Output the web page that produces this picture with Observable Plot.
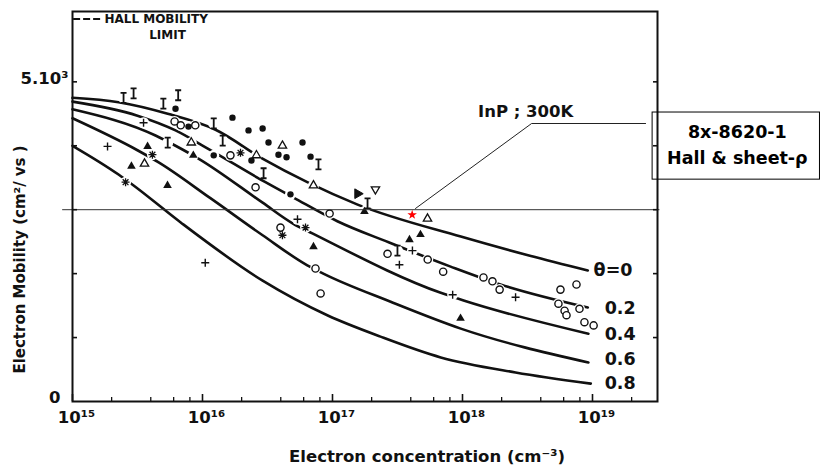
<!DOCTYPE html>
<html>
<head>
<meta charset="utf-8">
<title>InP electron mobility at 300 K</title>
<script src="https://cdn.jsdelivr.net/npm/d3@7"></script>
<script src="https://cdn.jsdelivr.net/npm/@observablehq/plot@0.6"></script>
<style>
  html, body { margin: 0; padding: 0; background: #fff; }
</style>
</head>
<body>
<div id="chart"></div>
<script>
// ---- Theoretical 300 K Hall mobility curves, one per compensation ratio θ ----
const thetaLabels = ["θ=0", "0.2", "0.4", "0.6", "0.8"];
const thetaLabelN = [1.02e19, 1.24e19, 1.24e19, 1.24e19, 1.24e19];
const thetaLabelMu = [2050, 1455, 1050, 655, 280];

const curveN_00 = [1e15, 2.26e15, 5.4e15, 1.26e16, 2.94e16, 6.4e16, 1.56e17, 9.7e17, 3.3e18, 9.2e18];
const curveMu_00 = [4750, 4680, 4500, 4250, 3790, 3430, 3080, 2580, 2280, 2050];

const curveN_02 = [1e15, 3.16e15, 6.2e15, 1.09e16, 3.05e16, 5.0e16, 1.09e17, 2.7e17, 8.1e17, 1.96e18, 9.2e18];
const curveMu_02 = [4690, 4470, 4240, 3960, 3430, 3190, 2820, 2490, 2110, 1830, 1470];

const curveN_04 = [1e15, 4.35e15, 6.2e15, 9.3e15, 2.9e16, 5.0e16, 7.0e16, 6.8e17, 1.02e18, 9.3e18];
const curveMu_04 = [4570, 4160, 4000, 3800, 3110, 2780, 2630, 1700, 1580, 1060];

const curveN_06 = [1e15, 3.16e15, 4.6e15, 1.15e16, 2.9e16, 6.4e16, 8.5e16, 2.8e17, 9.7e17, 9.3e18];
const curveMu_06 = [4430, 3930, 3740, 3180, 2600, 2130, 2000, 1560, 1140, 610];

const curveN_08 = [1e15, 2.26e15, 2.9e15, 6.8e15, 2.9e16, 9.2e16, 2.34e17, 6.8e17, 2.56e18, 9.7e18];
const curveMu_08 = [4000, 3550, 3390, 2800, 1890, 1345, 1015, 690, 455, 280];

// ---- Measured samples from the literature, grouped by plotting symbol ----
const ibarN = [2.47e15, 2.95e15, 5.0e15, 6.5e15, 1.22e16, 5.4e15, 1.43e16, 7.8e16, 2.95e16, 1.86e17, 3.16e17];
const ibarMu = [4750, 4820, 4660, 4790, 4350, 4050, 4080, 3710, 3570, 3100, 2360];

const dotN = [6.2e15, 7.8e15, 1.7e16, 2.26e16, 2.9e16, 3.22e16, 5.88e16, 3.84e16, 4.43e16, 6.78e16, 1.22e16, 2.38e16, 4.75e16];
const dotMu = [4580, 4300, 4440, 4240, 4270, 4050, 4050, 3860, 3820, 3830, 3850, 3770, 3240];

const circleN = [6.1e15, 6.8e15, 8.8e15, 1.64e16, 2.56e16, 9.5e16, 3.98e16, 7.4e16, 8.1e16, 2.65e17, 5.4e17, 7.1e17,
                 1.45e18, 1.7e18, 1.93e18, 5.67e18, 7.53e18, 5.47e18, 6.1e18, 6.31e18, 7.94e18, 8.67e18, 1.02e19];
const circleMu = [4380, 4320, 4320, 3850, 3350, 2940, 2720, 2080, 1690, 2310, 2220, 2030,
                  1940, 1880, 1750, 1750, 1830, 1530, 1420, 1350, 1450, 1240, 1190];

const triN = [3.78e15, 2.84e15, 5.38e15, 8.5e15, 7.14e16, 1.76e17, 3.91e17, 4.75e17, 9.66e17];
const triMu = [3990, 3680, 3380, 3850, 2420, 2970, 2530, 2610, 1300];

const triOpenN = [3.58e15, 8.2e15, 4.12e16, 7.14e16, 5.38e17, 2.6e16];
const triOpenMu = [3720, 4050, 4000, 3380, 2860, 3850];

const plusN = [3.52e15, 1.86e15, 5.38e16, 1.05e16, 4.12e17, 3.27e17, 8.4e17, 2.56e18];
const plusMu = [4360, 3990, 2850, 2170, 2360, 2140, 1670, 1630];

const asteriskN = [4.12e15, 2.56e15, 1.96e16, 6.2e16, 4.12e16];
const asteriskMu = [3860, 3430, 3890, 2720, 2600];

const triDownN = [2.14e17];
const triDownMu = [3320];

const flagN = [1.56e17];
const flagMu = [3250];

// Sample 8x-8620-1 (Hall & sheet resistance)
const sampleN = [4.1e17];
const sampleMu = [2920];

// ---- Axes ----
const decades = [1e15, 1e16, 1e17, 1e18, 1e19];
const decadeLabels = ["10¹⁵", "10¹⁶", "10¹⁷", "10¹⁸", "10¹⁹"];
const minorMultiples = [2, 4, 6, 8];
const yTicks = [1000, 2000, 3000, 4000, 5000];
const yLabelValues = [0, 5000];
const yLabels = ["0", "5.10³"];

// ---- Tables built from the arrays above ----
const curveRows = [
  [curveN_00, curveMu_00], [curveN_02, curveMu_02], [curveN_04, curveMu_04],
  [curveN_06, curveMu_06], [curveN_08, curveMu_08]
].flatMap(([ns, mus], k) => ns.map((n, i) => ({theta: thetaLabels[k], n, mu: mus[i]})));

const rows = (kind, ns, mus) => ns.map((n, i) => ({kind, n, mu: mus[i]}));
const markerRows = [
  ...rows("ibar", ibarN, ibarMu),
  ...rows("dot", dotN, dotMu),
  ...rows("circle", circleN, circleMu),
  ...rows("tri", triN, triMu),
  ...rows("triOpen", triOpenN, triOpenMu),
  ...rows("plus", plusN, plusMu),
  ...rows("asterisk", asteriskN, asteriskMu),
  ...rows("triDown", triDownN, triDownMu),
  ...rows("flag", flagN, flagMu)
];
const ofKind = k => markerRows.filter(d => d.kind === k);

const labelRows = thetaLabels.map((t, i) => ({t, n: thetaLabelN[i], mu: thetaLabelMu[i]}));
const minorTicks = decades.flatMap(d => minorMultiples.map(m => m * d)).filter(v => v < 10 ** 19.5);

// ---- Custom stroked symbols ----
const radius = size => Math.sqrt(size / Math.PI);
const ibeam = {draw(ctx, size) {
  const r = radius(size), w = r * 0.6;
  ctx.moveTo(0, -r); ctx.lineTo(0, r);
  ctx.moveTo(-w, -r); ctx.lineTo(w, -r);
  ctx.moveTo(-w, r); ctx.lineTo(w, r);
}};
const cross = {draw(ctx, size) {
  const r = radius(size);
  ctx.moveTo(-r, 0); ctx.lineTo(r, 0);
  ctx.moveTo(0, -r); ctx.lineTo(0, r);
}};
const burst = {draw(ctx, size) {
  const r = radius(size), d = r * 0.72;
  ctx.moveTo(-r, 0); ctx.lineTo(r, 0);
  ctx.moveTo(0, -r); ctx.lineTo(0, r);
  ctx.moveTo(-d, -d); ctx.lineTo(d, d);
  ctx.moveTo(-d, d); ctx.lineTo(d, -d);
}};

const ink = "#111";
const scanFont = "DejaVu Sans";
const textStyle = {fontFamily: scanFont, fontWeight: "bold", fill: ink};

const chart = Plot.plot({
  width: 820,
  height: 470,
  marginLeft: 72,
  marginRight: 163,
  marginTop: 11,
  marginBottom: 69,
  style: {background: "#fff", color: ink},
  x: {type: "log", domain: [1e15, 10 ** 19.5], label: null},
  y: {domain: [0, 6100], label: null},
  marks: [
    // model curves
    Plot.line(curveRows, {x: "n", y: "mu", z: "theta", curve: "monotone-x", stroke: ink, strokeWidth: 2.6}),

    // white halos leave small breaks in the curves around each sample
    Plot.dot(markerRows, {x: "n", y: "mu", r: 5.5, fill: "#fff", stroke: "none"}),

    // samples
    Plot.dot(ofKind("dot"), {x: "n", y: "mu", r: 3.2, fill: ink, stroke: "none"}),
    Plot.dot(ofKind("circle"), {x: "n", y: "mu", r: 3.6, fill: "#fff", stroke: ink, strokeWidth: 1.4}),
    Plot.dot(ofKind("tri"), {x: "n", y: "mu", r: 3.2, symbol: "triangle", fill: ink, stroke: "none"}),
    Plot.dot(ofKind("triOpen"), {x: "n", y: "mu", r: 3.1, symbol: "triangle", fill: "#fff", stroke: ink, strokeWidth: 1.3}),
    Plot.dot(ofKind("triDown"), {x: "n", y: "mu", r: 3.1, symbol: "triangle", rotate: 180, fill: "#fff", stroke: ink, strokeWidth: 1.3}),
    Plot.dot(ofKind("flag"), {x: "n", y: "mu", r: 3.6, symbol: "triangle", rotate: 90, fill: ink, stroke: ink, strokeWidth: 1}),
    Plot.dot(ofKind("plus"), {x: "n", y: "mu", r: 4, symbol: cross, fill: "none", stroke: ink, strokeWidth: 1.4}),
    Plot.dot(ofKind("asterisk"), {x: "n", y: "mu", r: 4, symbol: burst, fill: "none", stroke: ink, strokeWidth: 1.3}),
    Plot.dot(ofKind("ibar"), {x: "n", y: "mu", r: 5, symbol: ibeam, fill: "none", stroke: ink, strokeWidth: 1.8}),

    // 3000 cm²/Vs reference level
    Plot.ruleY([3000], {x1: 8.4e14, x2: 3.3e19, stroke: "#333", strokeWidth: 1}),

    // frame and inward ticks
    Plot.frame({stroke: ink, strokeWidth: 2}),
    Plot.axisX(minorTicks, {tickSize: -4, tickFormat: () => "", label: null, strokeWidth: 1.3}),
    Plot.axisX(decades, {tickSize: -7, tickFormat: () => "", label: null, strokeWidth: 1.6}),
    Plot.axisX(decades, {tickSize: 0, tickPadding: 10, dx: 4, tickFormat: d => decadeLabels[decades.indexOf(d)],
      label: null, fontSize: 16.5, ...textStyle}),
    Plot.axisY(yTicks, {tickSize: -5, tickFormat: () => "", label: null, strokeWidth: 1.6}),
    Plot.axisY(yTicks, {anchor: "right", tickSize: -5, tickFormat: () => "", label: null, strokeWidth: 1.6}),
    Plot.text([yLabelValues[0]], {x: 1e15, y: d => d, text: () => yLabels[0], textAnchor: "end", dx: -12, dy: -4, fontSize: 16.5, ...textStyle}),
    Plot.text([yLabelValues[1]], {x: 1e15, y: d => d, text: () => yLabels[1], textAnchor: "end", dx: -4, dy: -3, fontSize: 16.5, ...textStyle}),

    // axis titles
    Plot.text(["Electron concentration (cm⁻³)"], {text: d => d, frameAnchor: "bottom", textAnchor: "middle", lineAnchor: "middle",
      dx: 62, dy: 55, fontSize: 16.5, ...textStyle}),
    Plot.text(["Electron Mobility (cm²/ vs )"], {text: d => d, frameAnchor: "left", textAnchor: "middle", lineAnchor: "middle",
      dx: -52, dy: 53, rotate: -90, fontSize: 15, ...textStyle}),

    // curve labels
    Plot.text(labelRows, {x: "n", y: "mu", text: "t", textAnchor: "start", fontSize: 17.5, ...textStyle}),

    // legend for the (dashed) Hall mobility limit
    Plot.ruleY([5982], {x1: 1.02e15, x2: 1.67e15, stroke: ink, strokeWidth: 2, strokeDasharray: "7,3"}),
    Plot.text(["HALL MOBILITY"], {text: d => d, x: 1.76e15, y: 5975, textAnchor: "start", fontSize: 12, ...textStyle}),
    Plot.text(["LIMIT"], {text: d => d, x: 5.38e15, y: 5735, fontSize: 12, ...textStyle}),

    Plot.text(["InP ; 300K"], {text: d => d, x: 3.06e18, y: 4540, fontSize: 16.5, ...textStyle}),

    // sample callout
    Plot.line([[4.35e17, 3019], [3.4e18, 4348], [2.56e19, 4348]], {x: d => d[0], y: d => d[1], stroke: "#222", strokeWidth: 1}),
    Plot.dot(sampleN.map((n, i) => ({n, mu: sampleMu[i]})), {x: "n", y: "mu", r: 3, symbol: "star", fill: "#f00", stroke: "none"}),
    Plot.rect([0], {x1: 2.9e19, x2: 5.62e20, y1: 3470, y2: 4520, fill: "none", stroke: "#000", strokeWidth: 1}),
    Plot.text(["8x-8620-1"], {text: d => d, x: 1.3e20, y: 4207, fontSize: 17.5, fontFamily: "DejaVu Sans", fontWeight: "bold", fill: "#000"}),
    Plot.text(["Hall & sheet-ρ"], {text: d => d, x: 1.3e20, y: 3800, fontSize: 17.5, fontFamily: "DejaVu Sans", fontWeight: "bold", fill: "#000"})
  ]
});

document.getElementById("chart").append(chart);
</script>
</body>
</html>
